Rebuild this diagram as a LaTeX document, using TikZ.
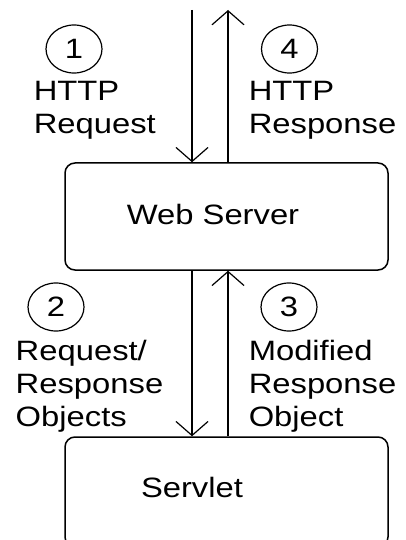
\documentclass[tikz,border=0pt]{standalone}
\usepackage{fontspec}
\setmainfont{Liberation Sans}[FakeStretch=1.17]
\usetikzlibrary{arrows.meta,shapes.geometric}
\begin{document}
\begin{tikzpicture}[x=1pt,y=-1pt,
  line width=1.5pt,
  box/.style={draw,rounded corners=10pt,inner sep=0pt},
  num/.style={draw,ellipse,minimum width=56pt,minimum height=48pt,inner sep=0pt,font=\fontsize{28}{33}\selectfont,line width=1.2pt},
  lbl/.style={anchor=north west,align=left,inner sep=0pt,font=\fontsize{28}{33}\selectfont},
  txt/.style={inner sep=0pt,font=\fontsize{28}{33}\selectfont},
  arr/.style={-{Straight Barb[length=14pt,width=32pt,line width=1.2pt]}}]
\useasboundingbox (0,0) rectangle (406,540);
\clip (0,0) rectangle (406,540);
% boxes
\node[box,minimum width=323pt,minimum height=107pt] (ws) at (226.5,216.5) {};
\node[txt] (wst) at (213,214) {Web Server};
\node[box,minimum width=323pt,minimum height=110pt] (sv) at (226.5,492) {};
\node[txt] (svt) at (192,487) {Servlet};
% top ends
\coordinate (t1) at (192,10);
\coordinate (t2) at (228,10);
% arrows
\draw[arr] (t1) -- (t1 |- ws.north);
\draw[arr] (t2 |- ws.north) -- (t2);
\draw[arr] (t1 |- ws.south) -- (t1 |- sv.north);
\draw[arr] (t2 |- sv.north) -- (t2 |- ws.south);
% numbers
\node[num] (n1) at (74,49) {1};
\node[num] (n4) at (289.5,49) {4};
\node[num] (n2) at (56,307) {2};
\node[num] (n3) at (289,307) {3};
% labels
\node[lbl] (l1) at (33,80) {HTTP\\Request};
\node[lbl] (l4) at (248,80) {HTTP\\Response};
\node[lbl] (l2) at (15,339) {Request/\\Response\\Objects};
\node[lbl] (l3) at (248,339) {Modified\\Response\\Object};
\end{tikzpicture}
\end{document}
